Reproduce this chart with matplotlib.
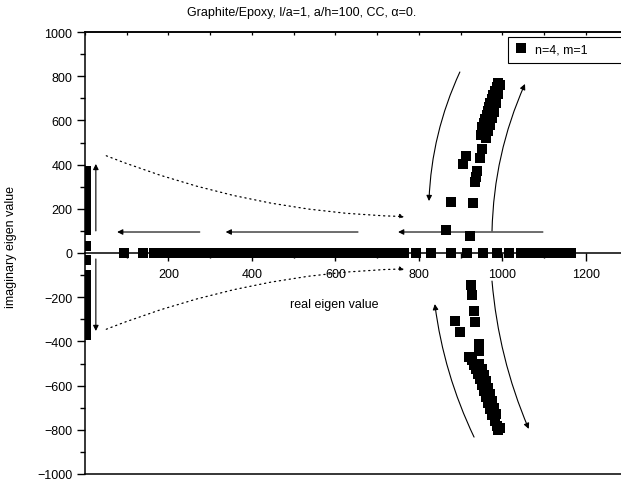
import numpy as np
import matplotlib
matplotlib.use("Agg")
from matplotlib import pyplot as plt
from matplotlib.ticker import MultipleLocator, FixedLocator

plt.rcParams['font.family'] = ['Liberation Sans', 'DejaVu Sans']

# eigen values: real branch (imag = 0)
real_x = [93, 139, 166, 176, 186, 200, 214, 236, 262, 283, 300, 316, 332, 348, 364,
          380, 396, 412, 428, 444, 460, 476, 492, 508, 524, 540, 556, 572, 588, 604,
          620, 636, 652, 668, 684, 700, 716, 732, 748, 764, 793, 829, 877, 915, 953,
          987, 1015, 1044, 1060, 1075, 1090, 1105, 1120, 1135, 1150, 1165]

# points sitting on the imaginary axis
imag_axis_y = [370, 355, 340, 325, 310, 295, 280, 265, 250, 235, 220, 205, 190, 175,
               160, 145, 130, 115, 105, 30, -30, -100, -115, -130, -145, -160, -175,
               -190, -205, -220, -235, -250, -265, -280, -295, -310, -325, -340, -355, -370]

# complex branch near real value ~950 (upper half)
up_x = [989, 986, 982, 978, 975, 971, 968, 965, 962, 958, 955, 952, 950, 948, 951,
        946, 913, 905, 939, 936, 934, 877, 929, 865, 922,
        995, 990, 985, 980, 975, 970, 965, 960]
up_y = [769, 752, 734, 716, 698, 680, 662, 644, 626, 608, 590, 572, 554, 536, 471,
        430, 439, 403, 371, 346, 321, 231, 226, 104, 77,
        760, 720, 680, 640, 610, 580, 550, 520]

# lower half
lo_x = [925, 927, 932, 934, 886, 898, 943, 943, 920, 926, 931, 936, 941, 946, 951,
        956, 961, 966, 971, 976, 981, 986, 990, 945, 950, 955,
        960, 965, 970, 975, 980, 985, 993]
lo_y = [-145, -190, -262, -312, -308, -358, -412, -443, -470, -485, -505, -525, -548,
        -572, -598, -625, -652, -680, -708, -735, -760, -782, -800, -500, -525, -550,
        -580, -610, -640, -670, -700, -730, -790]

fig = plt.figure(figsize=(6.21, 4.85), dpi=100)
ax = fig.add_axes([85 / 621, 10 / 485, 536 / 621, 442 / 485])

ax.set_xlim(0, 1284)
ax.set_ylim(-1000, 1000)

ms = 6.5
ax.plot(real_x, [0] * len(real_x), 's', color='k', ms=ms, mew=0,
        label='n=4, m=1              ', zorder=3)
ax.plot([2] * len(imag_axis_y), imag_axis_y, 's', color='k', ms=ms, mew=0, zorder=3)
ax.plot(up_x, up_y, 's', color='k', ms=ms, mew=0, zorder=3)
ax.plot(lo_x, lo_y, 's', color='k', ms=ms, mew=0, zorder=3)

# axes look
ax.spines['bottom'].set_position(('data', 0))
ax.spines['right'].set_visible(False)
for s in ['bottom', 'left', 'top']:
    ax.spines[s].set_linewidth(1.1)
ax.axhline(-1000, color='k', lw=1.1, clip_on=False)

ax.xaxis.set_major_locator(FixedLocator([200, 400, 600, 800, 1000, 1200]))
ax.xaxis.set_minor_locator(FixedLocator([100, 300, 500, 700, 900, 1100]))
ax.yaxis.set_major_locator(MultipleLocator(200))
ax.yaxis.set_minor_locator(MultipleLocator(100))
ax.tick_params(which='major', direction='out', length=5.5, width=1.0, labelsize=9)
ax.tick_params(which='minor', direction='out', length=3.5, width=1.0)
ax.tick_params(axis='x', pad=5)

sec = ax.secondary_xaxis('top')
sec.xaxis.set_major_locator(MultipleLocator(100))
sec.tick_params(direction='in', length=2.5, width=0.9, labelsize=0)
sec.set_xticklabels([])
sec.spines['top'].set_linewidth(1.1)

ax.text(596, -231, 'real eigen value', ha='center', va='center', fontsize=9)
fig.text(0.018, 0.49, 'imaginary eigen value', rotation=90, ha='center', va='center', fontsize=9)
fig.text(0.485, 0.973, 'Graphite/Epoxy, l/a=1, a/h=100, CC, \u03b1=0.', ha='center', va='center', fontsize=9)

leg = ax.legend(loc='upper left', bbox_to_anchor=(0.789, 0.989), borderaxespad=0,
                fancybox=False, edgecolor='k', fontsize=9, handlelength=1.0,
                handletextpad=0.6, borderpad=0.55, framealpha=1)
leg.get_frame().set_linewidth(0.8)

# straight arrows
solid = dict(arrowstyle='-|>', color='k', lw=0.8, mutation_scale=8, shrinkA=0, shrinkB=0)
ax.annotate('', xy=(77, 95), xytext=(275, 95), arrowprops=solid)
ax.annotate('', xy=(337, 95), xytext=(654, 95), arrowprops=solid)
ax.annotate('', xy=(750, 95), xytext=(1097, 95), arrowprops=solid)
ax.annotate('', xy=(26, 403), xytext=(26, 100), arrowprops=solid)
ax.annotate('', xy=(26, -353), xytext=(26, -27), arrowprops=solid)

# curved arrows around the complex branch
ax.annotate('', xy=(824, 235), xytext=(898, 819),
            arrowprops=dict(solid, connectionstyle='arc3,rad=0.1'))
ax.annotate('', xy=(1054, 765), xytext=(975, 100),
            arrowprops=dict(solid, connectionstyle='arc3,rad=-0.1'))
ax.annotate('', xy=(838, -231), xytext=(932, -833),
            arrowprops=dict(solid, connectionstyle='arc3,rad=-0.08'))
ax.annotate('', xy=(1063, -796), xytext=(975, -127),
            arrowprops=dict(solid, connectionstyle='arc3,rad=0.08'))

# dotted curves
dots = dict(arrowstyle='-|>', color='k', lw=0.9, ls=(0, (1, 3)), mutation_scale=7,
            shrinkA=0, shrinkB=0)
ax.annotate('', xy=(766, 165), xytext=(51, 440),
            arrowprops=dict(dots, connectionstyle='arc3,rad=0.09'))
ax.annotate('', xy=(766, -72), xytext=(51, -345),
            arrowprops=dict(dots, connectionstyle='arc3,rad=-0.09'))

fig.savefig('out.png', dpi=100)
